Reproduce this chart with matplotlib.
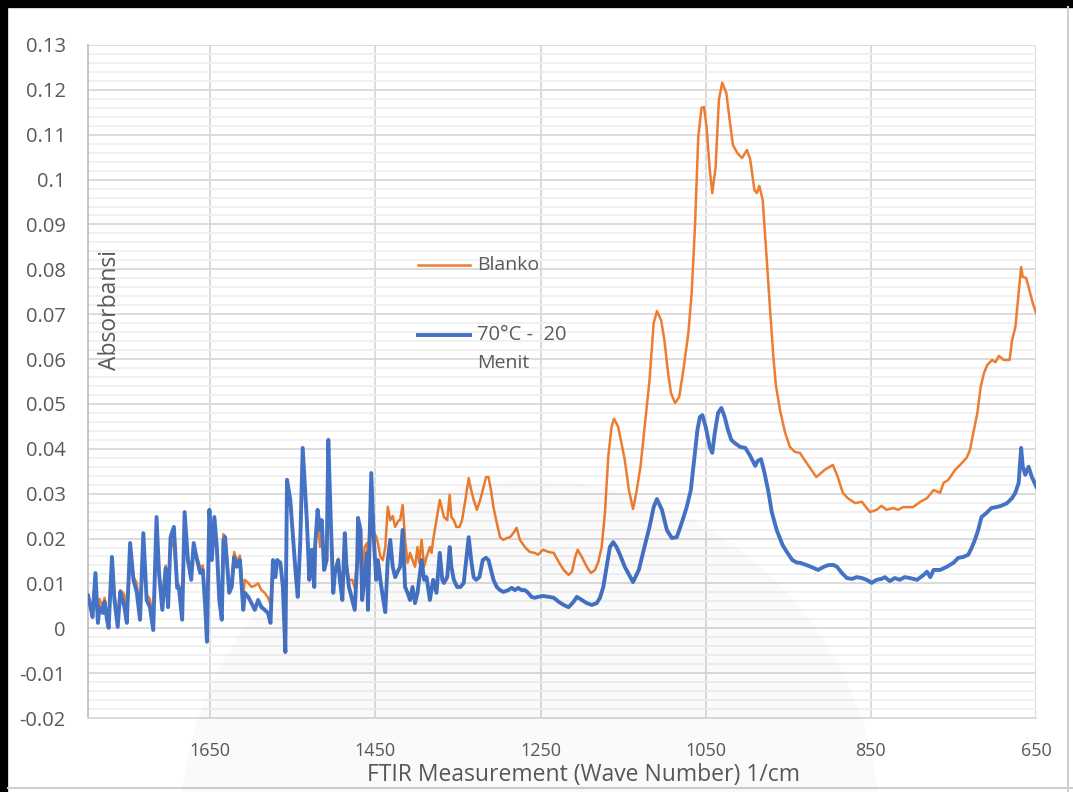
import matplotlib
matplotlib.use('Agg')
import matplotlib.pyplot as plt
from matplotlib.lines import Line2D
from matplotlib.patches import Ellipse
import numpy as np


# noisy part of both spectra, shared wave numbers (1/cm)
noise_wn = [1798, 1795, 1792.5, 1789, 1786, 1784, 1780, 1778, 1775, 1773,
            1769, 1766, 1762, 1759, 1756, 1754, 1751, 1747, 1743, 1739,
            1735, 1731, 1727, 1723, 1719, 1715, 1712, 1708, 1704, 1701,
            1698, 1694, 1690, 1688, 1684, 1681, 1677, 1673, 1670, 1666,
            1662, 1659, 1656, 1654, 1651, 1648, 1645, 1642, 1639, 1636,
            1634, 1632, 1629, 1627, 1624, 1621, 1618, 1614, 1610, 1608,
            1604, 1600, 1596, 1592, 1588, 1584, 1580, 1577, 1574, 1571,
            1569, 1565, 1562, 1559, 1557, 1553, 1547, 1544, 1541, 1538,
            1533, 1530, 1527, 1524, 1523, 1520, 1517, 1515, 1512, 1509,
            1507, 1504, 1501, 1499, 1495, 1493, 1490, 1487, 1485, 1482,
            1478, 1475, 1472, 1471, 1468, 1466, 1463, 1460, 1459, 1455,
            1452, 1449, 1447, 1444, 1441, 1438, 1435, 1432, 1429, 1426,
            1422]

blue_noise = [0.0074, 0.0048, 0.0025, 0.0123, 0.0012, 0.0047, 0.0034, 0.0059, 0.0019, 0.0001,
              0.0159, 0.0063, 0.0003, 0.0081, 0.0063, 0.0048, 0.0012, 0.0190, 0.0108, 0.0081,
              0.0019, 0.0212, 0.0063, 0.0047, -0.0004, 0.0248, 0.0123, 0.0041, 0.0134, 0.0047,
              0.0203, 0.0226, 0.0090, 0.0092, 0.0019, 0.0259, 0.0152, 0.0108, 0.0190, 0.0152,
              0.0123, 0.0130, 0.0047, -0.0030, 0.0264, 0.0152, 0.0248, 0.0181, 0.0063, 0.0019,
              0.0197, 0.0203, 0.0130, 0.0079, 0.0092, 0.0159, 0.0137, 0.0152, 0.0041, 0.0079,
              0.0070, 0.0056, 0.0041, 0.0063, 0.0047, 0.0041, 0.0034, 0.0012, 0.0152, 0.0114,
              0.0152, 0.0146, 0.0092, -0.0053, 0.0331, 0.0286, 0.0134, 0.0070, 0.0190, 0.0402,
              0.0241, 0.0108, 0.0175, 0.0092, 0.0181, 0.0264, 0.0219, 0.0241, 0.0130, 0.0152,
              0.0420, 0.0241, 0.0079, 0.0123, 0.0152, 0.0108, 0.0063, 0.0212, 0.0137, 0.0092,
              0.0063, 0.0041, 0.0146, 0.0246, 0.0219, 0.0063, 0.0114, 0.0168, 0.0041, 0.0346,
              0.0203, 0.0108, 0.0152, 0.0108, 0.0070, 0.0036, 0.0152, 0.0197, 0.0137, 0.0114,
              0.0130]

orange_noise = [0.0076, 0.0055, 0.0040, 0.0118, 0.0030, 0.0065, 0.0045, 0.0068, 0.0035, 0.0020,
                0.0150, 0.0075, 0.0025, 0.0085, 0.0080, 0.0075, 0.0030, 0.0180, 0.0115, 0.0101,
                0.0035, 0.0205, 0.0075, 0.0065, 0.0020, 0.0240, 0.0130, 0.0060, 0.0140, 0.0065,
                0.0200, 0.0178, 0.0100, 0.0097, 0.0040, 0.0250, 0.0155, 0.0137, 0.0185, 0.0160,
                0.0135, 0.0140, 0.0065, 0.0010, 0.0255, 0.0160, 0.0240, 0.0185, 0.0085, 0.0050,
                0.0210, 0.0205, 0.0145, 0.0100, 0.0110, 0.0170, 0.0150, 0.0162, 0.0075, 0.0108,
                0.0101, 0.0092, 0.0095, 0.0100, 0.0085, 0.0079, 0.0068, 0.0055, 0.0140, 0.0120,
                0.0145, 0.0140, 0.0085, -0.0020, 0.0310, 0.0275, 0.0140, 0.0090, 0.0185, 0.0380,
                0.0240, 0.0120, 0.0175, 0.0110, 0.0181, 0.0250, 0.0181, 0.0220, 0.0140, 0.0155,
                0.0395, 0.0235, 0.0100, 0.0130, 0.0155, 0.0120, 0.0090, 0.0205, 0.0145, 0.0108,
                0.0108, 0.0090, 0.0150, 0.0235, 0.0210, 0.0110, 0.0181, 0.0190, 0.0140, 0.0330,
                0.0215, 0.0204, 0.0190, 0.0160, 0.0152, 0.0180, 0.0271, 0.0241, 0.0250, 0.0226,
                0.0240]

# 70°C - 20 Menit, smoother part
blue_wn = [1420, 1417, 1414, 1411, 1408, 1405, 1402, 1399, 1397, 1394,
           1391, 1388, 1384, 1382, 1380, 1376, 1372, 1369, 1367, 1363,
           1360, 1358, 1355, 1351, 1347, 1343, 1340, 1337, 1334, 1331,
           1328, 1324, 1320, 1316, 1313, 1310, 1307, 1303, 1299, 1295,
           1289, 1285, 1281, 1277, 1273, 1269, 1265, 1261, 1257, 1253,
           1247, 1240, 1234, 1228, 1222, 1216, 1210, 1206, 1200, 1194,
           1188, 1182, 1178, 1174, 1170, 1166, 1162, 1158, 1154, 1148,
           1138, 1131, 1125, 1118, 1113, 1109, 1103, 1097, 1091, 1085,
           1079, 1073, 1068, 1064, 1060, 1057, 1054, 1050, 1045, 1042,
           1039, 1035, 1031, 1027, 1023, 1019, 1015, 1008, 1002, 996,
           990, 987, 983, 979, 974, 970, 964, 957, 951, 945,
           939, 936, 928, 920, 914, 907, 901, 895, 891, 885,
           879, 873, 867, 861, 855, 849, 843, 837, 833, 827,
           821, 815, 809, 803, 794, 786, 782, 778, 774, 766,
           758, 750, 744, 738, 732, 728, 724, 720, 716, 710,
           704, 698, 692, 685, 679, 675, 671, 668, 666, 663,
           659, 655, 649]

blue_abs = [0.0137, 0.0219, 0.0092, 0.0079, 0.0063, 0.0092, 0.0056, 0.0079, 0.0108, 0.0152,
            0.0108, 0.0114, 0.0063, 0.0085, 0.0108, 0.0079, 0.0168, 0.0108, 0.0101, 0.0114,
            0.0181, 0.0137, 0.0108, 0.0092, 0.0092, 0.0101, 0.0152, 0.0203, 0.0152, 0.0114,
            0.0108, 0.0114, 0.0152, 0.0157, 0.0152, 0.0130, 0.0108, 0.0092, 0.0085, 0.0081,
            0.0085, 0.0090, 0.0085, 0.0090, 0.0085, 0.0085, 0.0079, 0.0070, 0.0068, 0.0070,
            0.0072, 0.0070, 0.0068, 0.0059, 0.0052, 0.0047, 0.0059, 0.0070, 0.0063, 0.0056,
            0.0052, 0.0056, 0.0068, 0.0092, 0.0137, 0.0181, 0.0192, 0.0181, 0.0165, 0.0137,
            0.0103, 0.0130, 0.0175, 0.0226, 0.0270, 0.0288, 0.0264, 0.0219, 0.0201, 0.0203,
            0.0235, 0.0270, 0.0308, 0.0375, 0.0442, 0.0471, 0.0475, 0.0449, 0.0404, 0.0391,
            0.0435, 0.0480, 0.0491, 0.0471, 0.0442, 0.0420, 0.0413, 0.0404, 0.0402, 0.0384,
            0.0362, 0.0373, 0.0377, 0.0348, 0.0304, 0.0259, 0.0219, 0.0186, 0.0168, 0.0152,
            0.0146, 0.0146, 0.0141, 0.0135, 0.0130, 0.0137, 0.0141, 0.0141, 0.0137, 0.0123,
            0.0112, 0.0110, 0.0114, 0.0112, 0.0108, 0.0101, 0.0108, 0.0110, 0.0114, 0.0105,
            0.0112, 0.0108, 0.0114, 0.0112, 0.0108, 0.0119, 0.0126, 0.0114, 0.0130, 0.0130,
            0.0137, 0.0146, 0.0157, 0.0159, 0.0164, 0.0179, 0.0197, 0.0219, 0.0248, 0.0257,
            0.0268, 0.0270, 0.0273, 0.0279, 0.0290, 0.0302, 0.0324, 0.0402, 0.0360, 0.0342,
            0.0360, 0.0337, 0.0313]

# Blanko, smoother part
orange_wn = [1420, 1417, 1414, 1411, 1408, 1405, 1402, 1399, 1397, 1394,
             1391, 1388, 1384, 1382, 1380, 1376, 1372, 1369, 1367, 1363,
             1360, 1358, 1355, 1352, 1348, 1345, 1341, 1337, 1334, 1331,
             1327, 1323, 1319, 1316, 1313, 1310, 1307, 1303, 1299, 1295,
             1291, 1287, 1283, 1279, 1275, 1269, 1263, 1257, 1253, 1247,
             1240, 1234, 1228, 1222, 1216, 1212, 1208, 1205, 1200, 1194,
             1189, 1184, 1180, 1176, 1172, 1168, 1164, 1161, 1156, 1152,
             1148, 1143, 1138, 1134, 1129, 1123, 1118, 1113, 1109, 1104,
             1100, 1096, 1092, 1087, 1082, 1077, 1071, 1067, 1063, 1059,
             1055, 1052, 1049, 1045, 1042, 1038, 1034, 1030, 1025, 1021,
             1017, 1012, 1006, 1000, 996, 991, 988, 985, 981, 976,
             972, 968, 965, 960, 954, 948, 942, 936, 928, 916,
             906, 896, 890, 884, 878, 869, 861, 855, 851, 843,
             837, 831, 823, 817, 811, 799, 790, 782, 774, 766,
             762, 756, 748, 742, 734, 730, 726, 721, 717, 713,
             709, 703, 699, 695, 689, 682, 679, 675, 671, 668,
             666, 662, 658, 654, 651, 648]

orange_abs = [0.0241, 0.0275, 0.0197, 0.0146, 0.0168, 0.0152, 0.0137, 0.0181, 0.0146, 0.0197,
              0.0137, 0.0159, 0.0181, 0.0168, 0.0197, 0.0241, 0.0286, 0.0264, 0.0248, 0.0241,
              0.0297, 0.0248, 0.0241, 0.0226, 0.0226, 0.0241, 0.0286, 0.0335, 0.0308, 0.0286,
              0.0264, 0.0286, 0.0315, 0.0337, 0.0337, 0.0308, 0.0270, 0.0235, 0.0203, 0.0197,
              0.0201, 0.0203, 0.0212, 0.0224, 0.0197, 0.0181, 0.0170, 0.0168, 0.0164, 0.0175,
              0.0170, 0.0168, 0.0148, 0.0130, 0.0119, 0.0126, 0.0159, 0.0175, 0.0159, 0.0137,
              0.0123, 0.0130, 0.0148, 0.0181, 0.0257, 0.0382, 0.0449, 0.0467, 0.0449, 0.0413,
              0.0375, 0.0308, 0.0266, 0.0302, 0.0360, 0.0464, 0.0553, 0.0680, 0.0707, 0.0687,
              0.0642, 0.0576, 0.0524, 0.0502, 0.0516, 0.0576, 0.0658, 0.0747, 0.0894, 0.1095,
              0.1160, 0.1162, 0.1118, 0.1021, 0.0970, 0.1028, 0.1178, 0.1216, 0.1193, 0.1133,
              0.1077, 0.1060, 0.1048, 0.1066, 0.1044, 0.0977, 0.0970, 0.0986, 0.0955, 0.0821,
              0.0709, 0.0604, 0.0542, 0.0486, 0.0437, 0.0404, 0.0393, 0.0391, 0.0369, 0.0337,
              0.0353, 0.0364, 0.0337, 0.0302, 0.0290, 0.0279, 0.0282, 0.0268, 0.0259, 0.0264,
              0.0273, 0.0264, 0.0268, 0.0264, 0.0270, 0.0270, 0.0282, 0.0290, 0.0308, 0.0302,
              0.0324, 0.0331, 0.0353, 0.0364, 0.0380, 0.0397, 0.0435, 0.0480, 0.0538, 0.0569,
              0.0587, 0.0598, 0.0593, 0.0607, 0.0598, 0.0598, 0.0642, 0.0671, 0.0747, 0.0805,
              0.0783, 0.0781, 0.0754, 0.0725, 0.0709, 0.0694]

x_ticks = [1650, 1450, 1250, 1050, 850, 650]
y_ticks = [-0.02, -0.01, 0, 0.01, 0.02, 0.03, 0.04, 0.05, 0.06, 0.07,
           0.08, 0.09, 0.1, 0.11, 0.12, 0.13]

ORANGE = '#ED7D31'
BLUE = '#4472C4'
TXT = '#595959'

plt.rcParams['font.family'] = ['Open Sans', 'DejaVu Sans']

fig = plt.figure(figsize=(10.73, 7.92), dpi=100)
ax = fig.add_axes([88/1073, 1-718/792, (1036-88)/1073, (718-45)/792])

ax.plot(noise_wn + orange_wn, orange_noise + orange_abs, color=ORANGE, lw=1.8,
        solid_joinstyle='round', solid_capstyle='round', zorder=3)
ax.plot(noise_wn + blue_wn, blue_noise + blue_abs, color=BLUE, lw=2.8,
        solid_joinstyle='round', solid_capstyle='round', zorder=4)

ax.set_xlim(1798, 650)
ax.set_ylim(-0.02, 0.13)
ax.set_xticks(x_ticks)
ax.set_xticklabels([str(t) for t in x_ticks])
ax.set_yticks(y_ticks)
ax.set_yticklabels(['{:g}'.format(round(t, 2)) for t in y_ticks])
ax.set_yticks(np.arange(-0.02, 0.1301, 0.002), minor=True)

ax.grid(which='major', axis='both', color='#d9d9d9', lw=1.3, zorder=1)
ax.grid(which='minor', axis='y', color='#f0f0f0', lw=1.3, zorder=0)
ax.set_axisbelow(True)

for s in ['top', 'right']:
    ax.spines[s].set_visible(False)
ax.spines['left'].set_color('#bfbfbf')
ax.spines['bottom'].set_color('#d9d9d9')
ax.spines['left'].set_linewidth(1.3)
ax.spines['bottom'].set_linewidth(1.3)

ax.tick_params(which='both', length=0)
ax.tick_params(axis='x', pad=17, labelsize=13, labelcolor=TXT)
ax.tick_params(axis='y', pad=16, labelsize=14.5, labelcolor=TXT)

fig.text(367/1073, 1-775/792, 'FTIR Measurement (Wave Number) 1/cm', fontsize=16.5,
         color=TXT, ha='left', va='center')
fig.text(110/1073, 1-310/792, 'Absorbansi', fontsize=16.5, color=TXT,
         rotation=90, ha='center', va='center')

# legend drawn inside the plot
fig.add_artist(Line2D([418/1073, 470/1073], [1-265/792, 1-265/792], color=ORANGE, lw=1.8))
fig.text(477/1073, 1-265/792, 'Blanko', fontsize=14, color=TXT, va='center')
fig.add_artist(Line2D([418/1073, 470/1073], [1-335/792, 1-335/792], color=BLUE, lw=2.8))
fig.text(477/1073, 1-335/792, '70°C -  20', fontsize=14.5, color=TXT, va='center')
fig.text(477/1073, 1-363/792, 'Menit', fontsize=14, color=TXT, va='center')

# faint seal watermark behind the lower middle
fig.add_artist(Ellipse((530/1073, 1-830/792), 700/1073, 700/792, transform=fig.transFigure,
                       facecolor='black', edgecolor='none', alpha=0.02, zorder=10))

# screenshot frame
fig.add_artist(Line2D([4/1073, 4/1073], [0, 1], color='black', lw=6))
fig.add_artist(Line2D([0, 1], [1-3.5/792, 1-3.5/792], color='black', lw=6))
fig.add_artist(Line2D([1068/1073, 1068/1073], [0, 1-7/792], color='#d0d0d0', lw=1.5))
fig.add_artist(Line2D([8/1073, 1], [1-788/792, 1-788/792], color='#d0d0d0', lw=1.5))

fig.savefig('out.png', dpi=100)
